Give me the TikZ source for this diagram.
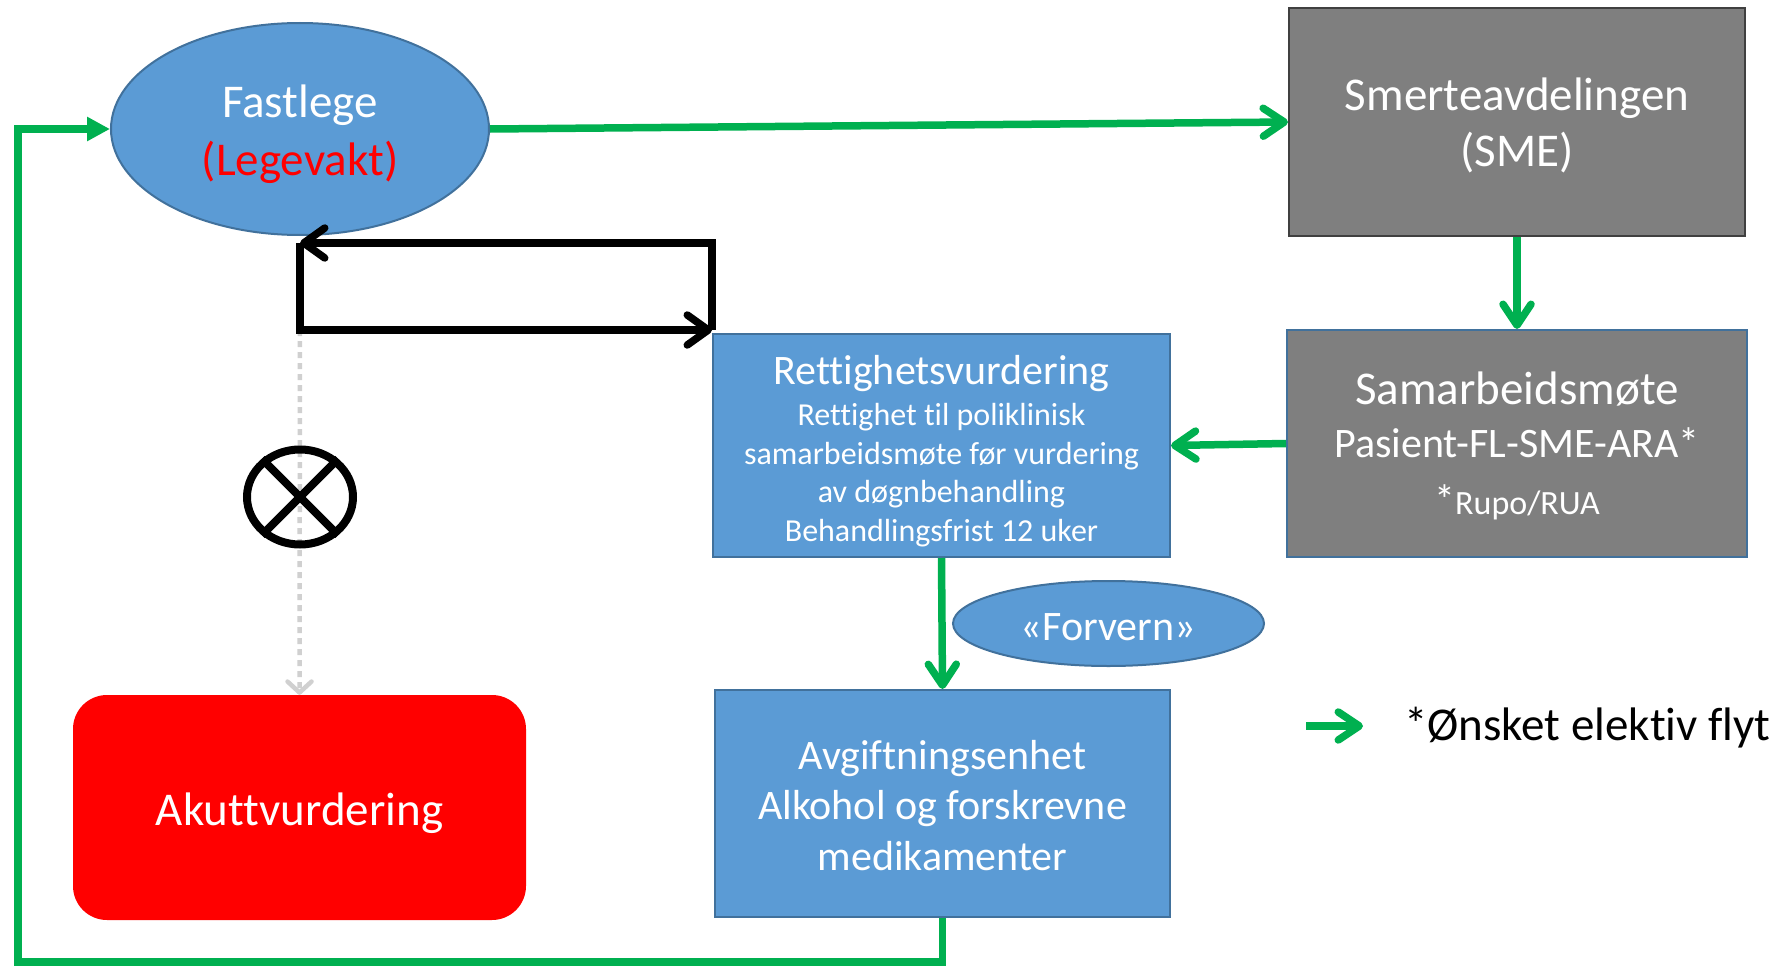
\documentclass[tikz,border=0pt]{standalone}
\usepackage{fontspec}
\setmainfont{Carlito}[Ligatures=NoCommon]
\usetikzlibrary{arrows.meta,shapes.geometric}
\definecolor{boxblue}{HTML}{5B9BD5}
\definecolor{edgeblue}{HTML}{41719C}
\definecolor{boxgray}{HTML}{7F7F7F}
\definecolor{edgegray}{HTML}{404040}
\definecolor{flowgreen}{HTML}{00B050}
\definecolor{dotgray}{HTML}{D0D0D0}
\tikzset{
  bluebox/.style={draw=edgeblue,line width=2pt,fill=boxblue,inner sep=0pt},
  graybox/.style={draw=edgeblue,line width=2pt,fill=boxgray,inner sep=0pt},
  txt/.style={text=white,align=center,inner sep=0pt},
  greenflow/.style={draw=flowgreen,line width=7.5pt,-{Straight Barb[length=21pt,width=28pt,line cap=round,line join=round]}},
  greenline/.style={draw=flowgreen,line width=7.5pt},
  blackflow/.style={draw=black,line width=7.5pt,line join=miter,-{Straight Barb[length=21pt,width=30pt,line cap=round,line join=round]}},
  grayflow/.style={draw=dotgray,line width=4.5pt,dash pattern=on 6pt off 5pt,-{Straight Barb[length=11pt,width=24pt,line cap=round,line join=round]}},
  big/.style={font=\fontsize{47}{56}\selectfont},
  mid/.style={font=\fontsize{42}{50.5}\selectfont},
}
\begin{document}
\begin{tikzpicture}[x=1pt,y=-1pt]
\useasboundingbox (0,0) rectangle (1786,966);
% shapes
\node[ellipse,bluebox,minimum width=378pt,minimum height=212pt] (fast) at (300,129) {};
\node[rectangle,graybox,draw=edgegray,minimum width=456pt,minimum height=228pt] (sme) at (1517,122) {};
\node[rectangle,graybox,minimum width=460pt,minimum height=227pt] (sam) at (1517,443.5) {};
\node[rectangle,bluebox,minimum width=457pt,minimum height=223pt] (ret) at (941.5,445.5) {};
\node[ellipse,bluebox,minimum width=311pt,minimum height=85pt] (forv) at (1108.5,623.5) {};
\node[rectangle,bluebox,minimum width=455pt,minimum height=227pt] (avg) at (942.5,803.5) {};
\node[rectangle,rounded corners=34pt,fill=red,minimum width=453pt,minimum height=225pt] (akutt) at (299.5,807.5) {};
% texts
\node[txt,font=\fontsize{47}{58}\selectfont] (fastT) at ([yshift=-5pt]fast.center) {Fastlege\\\textcolor{red}{(Legevakt)}};
\node[txt,font=\fontsize{47}{56}\selectfont] (smeT) at ([yshift=-3.5pt]sme.center) {Smerteavdelingen\\(SME)};
\node[txt,font=\fontsize{42}{55}\selectfont] (samT) at ([yshift=-2pt]sam.center) {{\fontsize{47}{55}\selectfont Samarbeidsmøte}\\[-2pt]Pasient-FL-SME-ARA*\\[2pt]*{\fontsize{34}{55}\selectfont Rupo/RUA}};
\node[txt,font=\fontsize{32}{38.5}\selectfont] (retT) at ([yshift=-5.5pt]ret.center) {{\fontsize{42}{44}\selectfont Rettighetsvurdering}\\[2.5pt]Rettighet til poliklinisk\\samarbeidsmøte før vurdering\\av døgnbehandling\\Behandlingsfrist 12 uker};
\node[txt,mid] (forvT) at ([yshift=-3.5pt]forv.center) {«Forvern»};
\node[txt,mid] (avgT) at ([yshift=-2pt]avg.center) {Avgiftningsenhet\\Alkohol og forskrevne\\medikamenter};
\node[txt,big] (akuttT) at ([yshift=-5.5pt]akutt.center) {Akuttvurdering};
% coordinates for loops
\coordinate (tl) at (300,243);
\coordinate (tr) at (712,243);
\coordinate (bl) at (300,330);
\coordinate (br) at (712,330);
\coordinate (loopcorner) at (18,962);
% gray dotted path to acute
\draw[grayflow] (bl) -- (akutt.north);
% crossed circle
\node[ellipse,draw=black,line width=8pt,minimum width=106pt,minimum height=95pt,inner sep=0pt] (xc) at (300,497) {};
\draw[black,line width=8pt] (xc.135) -- (xc.-45);
\draw[black,line width=8pt] (xc.45) -- (xc.-135);
% black loop
\draw[blackflow] (br) -- (tr) -- (tl);
\draw[blackflow] (tl) -- (bl) -- (br);
% green flows
\draw[greenflow] (fast.east) -- (sme.west);
\draw[greenflow] (sme.south) -- (sam.north);
\draw[greenflow] (sam.west) -- (ret.east);
\draw[greenflow] (ret.south) -- (avg.north);
\draw[greenline,line join=miter,-{Triangle[length=23pt,width=23pt]}] (avg.south) |- (loopcorner) |- (fast.west);
% legend
\coordinate (legA) at (1306,726);
\coordinate (legB) at (1363,726);
\draw[greenflow] (legA) -- (legB);
\node[anchor=west,inner sep=0pt,big] (legtext) at ([yshift=-2pt]1404,726) {*Ønsket elektiv flyt};
\end{tikzpicture}
\end{document}
